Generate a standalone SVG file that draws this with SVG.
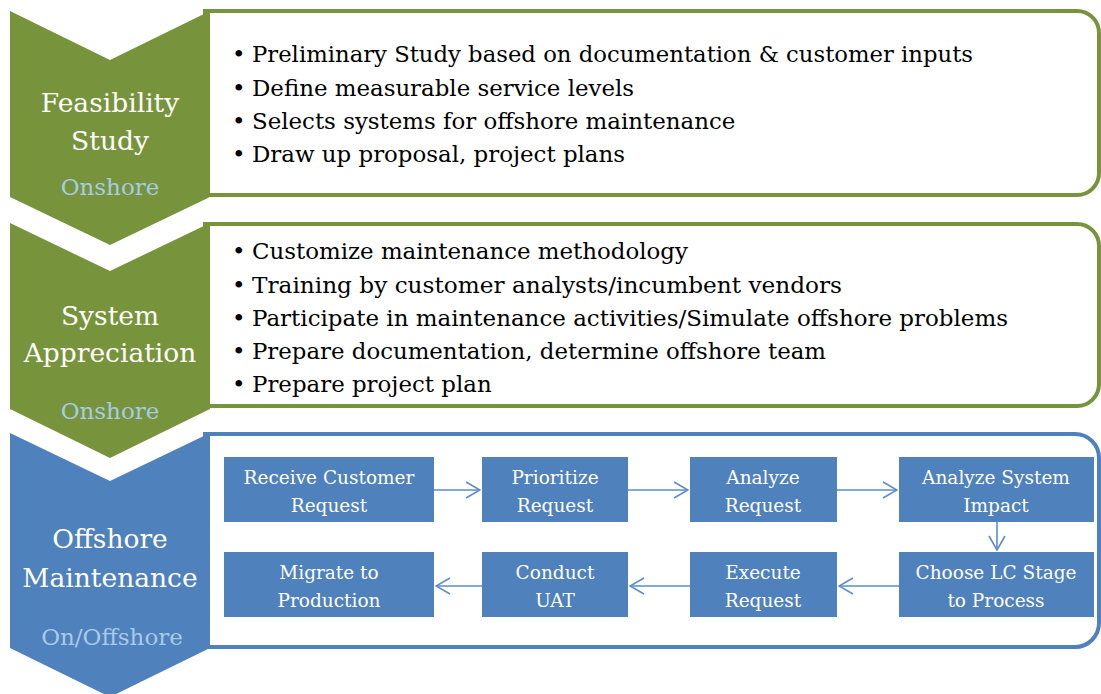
<svg xmlns="http://www.w3.org/2000/svg" width="1101" height="694" viewBox="0 0 1101 694">
<defs>
<style>
.bg{fill:#ffffff}
.gbox{fill:#ffffff;stroke:#77933C;stroke-width:4}
.bbox{fill:#ffffff;stroke:#4F81BD;stroke-width:4}
.gch{fill:#77933C}
.bch{fill:#4F81BD}
.lbl{font-family:"DejaVu Serif","Liberation Serif",serif;font-size:26.5px;fill:#ffffff;text-anchor:middle}
.sub{font-family:"DejaVu Serif","Liberation Serif",serif;font-size:23px;fill:#A8CBE6;text-anchor:middle}
.bul{font-family:"DejaVu Serif","Liberation Serif",serif;font-size:22.9px;fill:#000000}
.proc{fill:#4F81BD}
.pt{font-family:"DejaVu Serif","Liberation Serif",serif;font-size:18.5px;fill:#ffffff;text-anchor:middle}
.con{fill:none;stroke:#5C8DC9;stroke-width:1.6;marker-end:url(#arr)}
</style>
<marker id="arr" markerUnits="userSpaceOnUse" viewBox="0 0 16 18" refX="15" refY="9" markerWidth="16" markerHeight="18" orient="auto">
<path d="M1,1 L15,9 L1,17" fill="none" stroke="#5C8DC9" stroke-width="1.6"/>
</marker>
</defs>
<rect class="bg" x="0" y="0" width="1101" height="694"/>

<g id="feasibility-box">
<path class="gbox" d="M205,11 H1077 A22,22 0 0 1 1099,33 V173 A22,22 0 0 1 1077,195 H205 Z"/>
<text class="bul" x="232" y="62.3">•</text><text class="bul" x="252" y="62.3" textLength="721" lengthAdjust="spacingAndGlyphs">Preliminary Study based on documentation &amp; customer inputs</text>
<text class="bul" x="232" y="95.6">•</text><text class="bul" x="252" y="95.6">Define measurable service levels</text>
<text class="bul" x="232" y="128.9">•</text><text class="bul" x="252" y="128.9">Selects systems for offshore maintenance</text>
<text class="bul" x="232" y="162.2">•</text><text class="bul" x="252" y="162.2">Draw up proposal, project plans</text>
</g>
<g id="appreciation-box">
<path class="gbox" d="M205,224 H1077 A22,22 0 0 1 1099,246 V384 A22,22 0 0 1 1077,406 H205 Z"/>
<text class="bul" x="232" y="259.3">•</text><text class="bul" x="252" y="259.3">Customize maintenance methodology</text>
<text class="bul" x="232" y="292.6">•</text><text class="bul" x="252" y="292.6" textLength="590" lengthAdjust="spacingAndGlyphs">Training by customer analysts/incumbent vendors</text>
<text class="bul" x="232" y="325.6">•</text><text class="bul" x="252" y="325.6" textLength="756" lengthAdjust="spacingAndGlyphs">Participate in maintenance activities/Simulate offshore problems</text>
<text class="bul" x="232" y="359">•</text><text class="bul" x="252" y="359" textLength="574" lengthAdjust="spacingAndGlyphs">Prepare documentation, determine offshore team</text>
<text class="bul" x="232" y="392.3">•</text><text class="bul" x="252" y="392.3">Prepare project plan</text>
</g>
<g id="offshore-box">
<path class="bbox" d="M205,434 H1075 A24,24 0 0 1 1099,458 V623 A24,24 0 0 1 1075,647 H205 Z"/>
</g>

<g id="chevron-feasibility">
<path class="gch" d="M10,11 L110,60 L210,11 L210,197 L110,245 L10,197 Z"/>
<text class="lbl" x="110" y="112">Feasibility</text>
<text class="lbl" x="110" y="150">Study</text>
<text class="sub" x="110" y="195">Onshore</text>
</g>
<g id="chevron-appreciation">
<path class="gch" d="M10,223 L110,271 L210,223 L210,409 L110,458 L10,409 Z"/>
<text class="lbl" x="110" y="325">System</text>
<text class="lbl" x="110" y="362">Appreciation</text>
<text class="sub" x="110" y="419">Onshore</text>
</g>
<g id="chevron-offshore">
<path class="bch" d="M10,433 L110,481 L210,433 L210,648 L110,697 L10,648 Z"/>
<text class="lbl" x="110" y="548">Offshore</text>
<text class="lbl" x="110" y="587">Maintenance</text>
<text class="sub" x="112" y="645">On/Offshore</text>
</g>

<g id="p1"><rect class="proc" x="224" y="457" width="210" height="65"/><text class="pt" x="329" y="484.3">Receive Customer</text><text class="pt" x="329" y="511.7">Request</text></g>
<g id="p2"><rect class="proc" x="482" y="457" width="146" height="65"/><text class="pt" x="555" y="484.3">Prioritize</text><text class="pt" x="555" y="511.7">Request</text></g>
<g id="p3"><rect class="proc" x="690" y="457" width="147" height="65"/><text class="pt" x="763" y="484.3">Analyze</text><text class="pt" x="763" y="511.7">Request</text></g>
<g id="p4"><rect class="proc" x="899" y="457" width="195" height="65"/><text class="pt" x="996" y="484.3">Analyze System</text><text class="pt" x="996" y="511.7">Impact</text></g>
<g id="p5"><rect class="proc" x="899" y="552" width="195" height="65"/><text class="pt" x="996" y="579.3">Choose LC Stage</text><text class="pt" x="996" y="606.7">to Process</text></g>
<g id="p6"><rect class="proc" x="690" y="552" width="147" height="65"/><text class="pt" x="763" y="579.3">Execute</text><text class="pt" x="763" y="606.7">Request</text></g>
<g id="p7"><rect class="proc" x="482" y="552" width="146" height="65"/><text class="pt" x="555" y="579.3">Conduct</text><text class="pt" x="555" y="606.7">UAT</text></g>
<g id="p8"><rect class="proc" x="224" y="552" width="210" height="65"/><text class="pt" x="329" y="579.3">Migrate to</text><text class="pt" x="329" y="606.7">Production</text></g>

<g id="connectors">
<path class="con" d="M434,490 H480"/>
<path class="con" d="M628,490 H688"/>
<path class="con" d="M837,490 H897"/>
<path class="con" d="M997,522 V550"/>
<path class="con" d="M899,586 H839"/>
<path class="con" d="M690,586 H630"/>
<path class="con" d="M482,586 H436"/>
</g>
</svg>
